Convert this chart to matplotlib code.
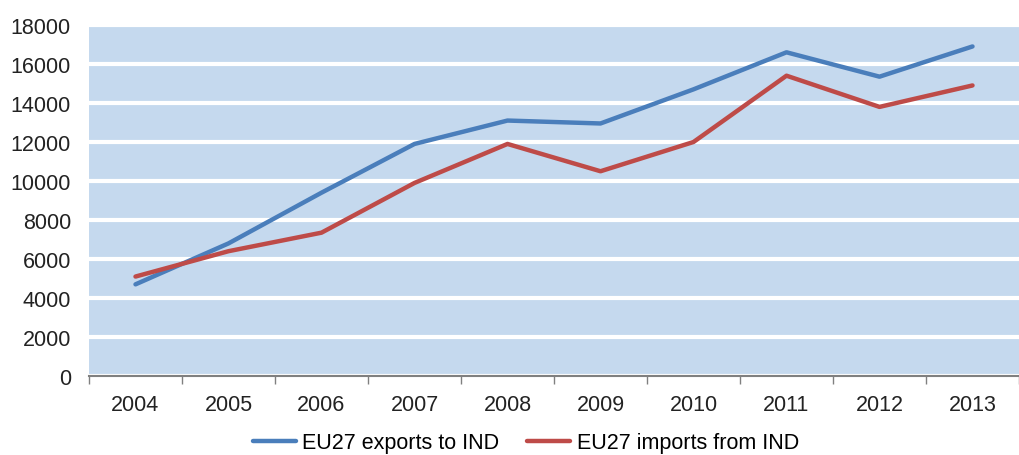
import matplotlib
matplotlib.use("Agg")
import matplotlib.pyplot as plt
import numpy as np

years = ["2004", "2005", "2006", "2007", "2008", "2009", "2010", "2011", "2012", "2013"]
exports = [4700, 6800, 9400, 11900, 13100, 12950, 14700, 16600, 15350, 16900]
imports = [5100, 6400, 7350, 9900, 11900, 10500, 12000, 15400, 13800, 14900]

plt.rcParams['font.family'] = ['Liberation Sans', 'DejaVu Sans']

fig = plt.figure(figsize=(10.19, 4.56), dpi=100)
ax = fig.add_axes([89/1019, 1-377/456, 1-89/1019, (377-26)/456])
ax.set_facecolor('#C5D9EE')

x = np.arange(len(years))
ax.plot(x, exports, color='#4A7EBB', lw=3.2, solid_capstyle='round', label='EU27 exports to IND', zorder=3)
ax.plot(x, imports, color='#BE4B48', lw=3.2, solid_capstyle='round', label='EU27 imports from IND', zorder=3)

ax.set_xlim(-0.5, len(years) - 0.5)
ax.set_ylim(0, 18000)
ax.set_yticks(np.arange(0, 18001, 2000))
ax.yaxis.grid(True, color='white', lw=3)
ax.set_axisbelow(True)

ax.set_xticks(x)
ax.set_xticklabels(years)
ax.set_xticks(np.arange(-0.5, len(years)), minor=True)
ax.tick_params(axis='x', which='major', length=0, pad=13, labelsize=15.5, colors='#222222')
ax.tick_params(axis='x', which='minor', length=6, width=1, color='#808080')
ax.tick_params(axis='y', length=0, pad=13, labelsize=15.5, colors='#222222')

for s in ['top', 'right', 'left']:
    ax.spines[s].set_visible(False)
ax.spines['bottom'].set_color('#808080')
ax.spines['bottom'].set_linewidth(1.5)

fig.legend(loc='center', bbox_to_anchor=(0.516, 1-444/456), ncol=2, frameon=False,
           fontsize=15.5, handlelength=2.0, columnspacing=1.3, handletextpad=0.3)

fig.savefig('out.png', dpi=100)
